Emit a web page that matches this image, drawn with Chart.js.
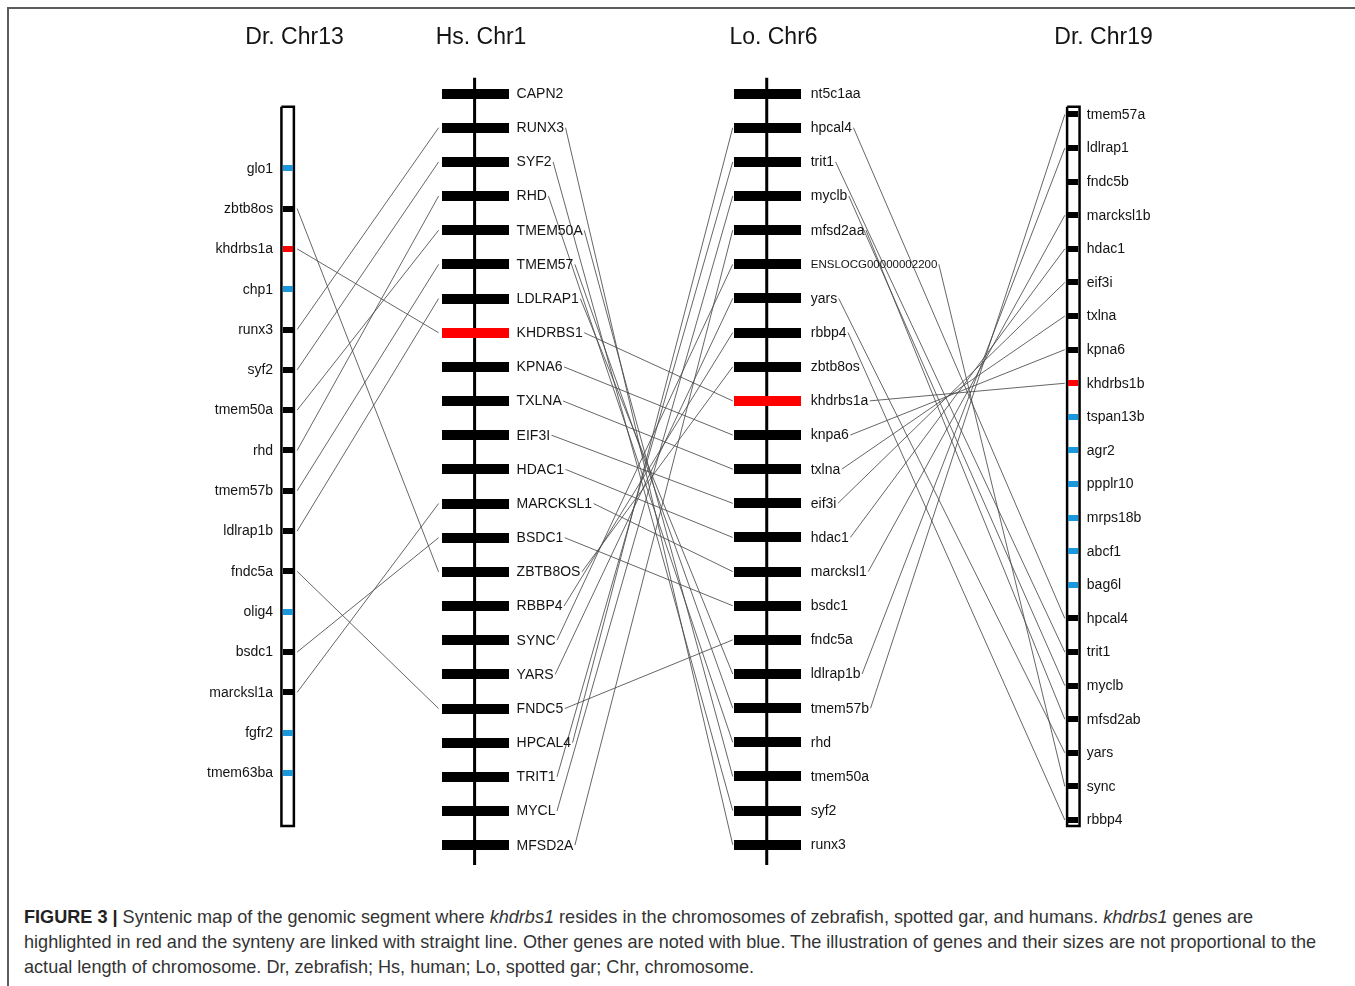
<!DOCTYPE html>
<html>
<head>
<meta charset="utf-8">
<title>Syntenic map of khdrbs1</title>
<script src="https://cdn.jsdelivr.net/npm/chart.js@4.4.1/dist/chart.umd.min.js"></script>
<style>
  html, body { margin: 0; padding: 0; background: #fff; width: 1355px; height: 986px; overflow: hidden; }
  #frame { position: absolute; left: 7px; top: 7px; width: 1400px; height: 1000px;
           border-top: 2px solid #5c5c5c; border-left: 2px solid #5c5c5c; }
  #wrap { position: absolute; left: 0; top: 0; width: 1355px; height: 880px; }
  #caption { position: absolute; left: 24px; top: 905px; font-family: "Liberation Sans", Arial, sans-serif;
             font-size: 18.1px; line-height: 25px; color: #333; white-space: nowrap; }
  #caption b { color: #222; }
</style>
</head>
<body>
<div id="frame"></div>
<div id="wrap"><canvas id="c" width="1355" height="880"></canvas></div>
<div id="caption">
  <b>FIGURE 3 |</b> Syntenic map of the genomic segment where <i>khdrbs1</i> resides in the chromosomes of zebrafish, spotted gar, and humans. <i>khdrbs1</i> genes are<br>
  highlighted in red and the synteny are linked with straight line. Other genes are noted with blue. The illustration of genes and their sizes are not proportional to the<br>
  actual length of chromosome. Dr, zebrafish; Hs, human; Lo, spotted gar; Chr, chromosome.
</div>
<script>
// ---- chromosome titles ----
const titles = ['Dr. Chr13', 'Hs. Chr1', 'Lo. Chr6', 'Dr. Chr19'];

// ---- genes on each chromosome, top to bottom ----
const dr13Genes = ['glo1', 'zbtb8os', 'khdrbs1a', 'chp1', 'runx3', 'syf2', 'tmem50a', 'rhd',
  'tmem57b', 'ldlrap1b', 'fndc5a', 'olig4', 'bsdc1', 'marcksl1a', 'fgfr2', 'tmem63ba'];
const dr13Kinds = ['other', 'syn', 'khdrbs1', 'other', 'syn', 'syn', 'syn', 'syn',
  'syn', 'syn', 'syn', 'other', 'syn', 'syn', 'other', 'other'];

const hsGenes = ['CAPN2', 'RUNX3', 'SYF2', 'RHD', 'TMEM50A', 'TMEM57', 'LDLRAP1', 'KHDRBS1',
  'KPNA6', 'TXLNA', 'EIF3I', 'HDAC1', 'MARCKSL1', 'BSDC1', 'ZBTB8OS', 'RBBP4', 'SYNC', 'YARS',
  'FNDC5', 'HPCAL4', 'TRIT1', 'MYCL', 'MFSD2A'];
const hsKinds = ['syn', 'syn', 'syn', 'syn', 'syn', 'syn', 'syn', 'khdrbs1',
  'syn', 'syn', 'syn', 'syn', 'syn', 'syn', 'syn', 'syn', 'syn', 'syn',
  'syn', 'syn', 'syn', 'syn', 'syn'];

const loGenes = ['nt5c1aa', 'hpcal4', 'trit1', 'myclb', 'mfsd2aa', 'ENSLOCG00000002200', 'yars',
  'rbbp4', 'zbtb8os', 'khdrbs1a', 'knpa6', 'txlna', 'eif3i', 'hdac1', 'marcksl1', 'bsdc1',
  'fndc5a', 'ldlrap1b', 'tmem57b', 'rhd', 'tmem50a', 'syf2', 'runx3'];
const loKinds = ['syn', 'syn', 'syn', 'syn', 'syn', 'syn', 'syn',
  'syn', 'syn', 'khdrbs1', 'syn', 'syn', 'syn', 'syn', 'syn', 'syn',
  'syn', 'syn', 'syn', 'syn', 'syn', 'syn', 'syn'];

const dr19Genes = ['tmem57a', 'ldlrap1', 'fndc5b', 'marcksl1b', 'hdac1', 'eif3i', 'txlna', 'kpna6',
  'khdrbs1b', 'tspan13b', 'agr2', 'ppplr10', 'mrps18b', 'abcf1', 'bag6l', 'hpcal4', 'trit1',
  'myclb', 'mfsd2ab', 'yars', 'sync', 'rbbp4'];
const dr19Kinds = ['syn', 'syn', 'syn', 'syn', 'syn', 'syn', 'syn', 'syn',
  'khdrbs1', 'other', 'other', 'other', 'other', 'other', 'other', 'syn', 'syn',
  'syn', 'syn', 'syn', 'syn', 'syn'];

// ---- syntenic links between neighbouring chromosomes ----
const linksDr13Hs = [['zbtb8os', 'ZBTB8OS'], ['khdrbs1a', 'KHDRBS1'], ['runx3', 'RUNX3'], ['syf2', 'SYF2'],
  ['tmem50a', 'TMEM50A'], ['rhd', 'RHD'], ['tmem57b', 'TMEM57'], ['ldlrap1b', 'LDLRAP1'],
  ['fndc5a', 'FNDC5'], ['bsdc1', 'BSDC1'], ['marcksl1a', 'MARCKSL1']];
const linksHsLo = [['RUNX3', 'runx3'], ['SYF2', 'syf2'], ['RHD', 'rhd'], ['TMEM50A', 'tmem50a'],
  ['TMEM57', 'tmem57b'], ['LDLRAP1', 'ldlrap1b'], ['KHDRBS1', 'khdrbs1a'], ['KPNA6', 'knpa6'],
  ['TXLNA', 'txlna'], ['EIF3I', 'eif3i'], ['HDAC1', 'hdac1'], ['MARCKSL1', 'marcksl1'],
  ['BSDC1', 'bsdc1'], ['ZBTB8OS', 'zbtb8os'], ['RBBP4', 'rbbp4'], ['SYNC', 'ENSLOCG00000002200'],
  ['YARS', 'yars'], ['FNDC5', 'fndc5a'], ['HPCAL4', 'hpcal4'], ['TRIT1', 'trit1'],
  ['MYCL', 'myclb'], ['MFSD2A', 'mfsd2aa']];
const linksLoDr19 = [['hpcal4', 'hpcal4'], ['trit1', 'trit1'], ['myclb', 'myclb'], ['mfsd2aa', 'mfsd2ab'],
  ['ENSLOCG00000002200', 'sync'], ['yars', 'yars'], ['rbbp4', 'rbbp4'], ['khdrbs1a', 'khdrbs1b'],
  ['knpa6', 'kpna6'], ['txlna', 'txlna'], ['eif3i', 'eif3i'], ['hdac1', 'hdac1'],
  ['marcksl1', 'marcksl1b'], ['ldlrap1b', 'ldlrap1'], ['tmem57b', 'tmem57a']];

// ---- drawing layout (pixels) ----
const W = 1355, H = 880;
const track = {
  dr13: { x: 286.5, first: 167, step: 40.5 },
  hs:   { x: 474.5, first: 92,  step: 34.32 },
  lo:   { x: 767.5, first: 92,  step: 34.3 },
  dr19: { x: 1074.5, first: 113, step: 33.75 }
};
const titleX = [294.5, 481, 773.5, 1103.5];
const titleY = 38;
const boxTop = 104, boxBottom = 829, boxHalf = 7.5, boxBorder = 2.5;
const backboneTop = 76, backboneBottom = 867;
const barW = 67, barH = 10, markW = 10, markH = 6;
const colors = { syn: '#000000', khdrbs1: '#ff0000', other: '#1b97dc' };
const linkColor = '#4a4a4a';
const geneFont = '14px "Liberation Sans", Arial, sans-serif';
const smallGeneFont = '11.5px "Liberation Sans", Arial, sans-serif';
const titleFont = '23px "Liberation Sans", Arial, sans-serif';

// block images used as point styles for gene marks
function block(w, h, color) {
  const cv = document.createElement('canvas');
  cv.width = w; cv.height = h;
  const g = cv.getContext('2d');
  g.fillStyle = color; g.fillRect(0, 0, w, h);
  return cv;
}
const barStyles = {}, markStyles = {};
for (const k in colors) {
  barStyles[k] = block(barW, barH, colors[k]);
  markStyles[k] = block(markW, markH, colors[k]);
}

// each chromosome gets its own y axis: gene index -> pixel row
function geneAxis(t) {
  return { type: 'linear', display: false, reverse: true,
           min: -t.first / t.step, max: (H - t.first) / t.step };
}
const toVal = (t, px) => (px - t.first) / t.step;

function geneDataset(genes, kinds, t, axis, styles) {
  return {
    type: 'scatter', yAxisID: axis,
    data: genes.map((g, i) => ({ x: t.x, y: i })),
    pointRadius: 1, pointHoverRadius: 1,
    pointStyle: c => styles[kinds[c.dataIndex]]
  };
}
function boxDataset(t, axis) {
  const l = t.x - boxHalf + boxBorder / 2, r = t.x + boxHalf - boxBorder / 2;
  const top = toVal(t, boxTop + boxBorder / 2), bot = toVal(t, boxBottom - boxBorder / 2);
  return {
    type: 'scatter', yAxisID: axis, showLine: true, pointRadius: 0,
    borderColor: '#000', borderWidth: boxBorder, borderJoinStyle: 'miter',
    data: [{ x: l, y: top }, { x: r, y: top }, { x: r, y: bot }, { x: l, y: bot }, { x: l, y: top }]
  };
}
function backboneDataset(t, axis) {
  return {
    type: 'scatter', yAxisID: axis, showLine: true, pointRadius: 0,
    borderColor: '#000', borderWidth: 3,
    data: [{ x: t.x - 0.5, y: toVal(t, backboneTop) }, { x: t.x - 0.5, y: toVal(t, backboneBottom) }]
  };
}

const fontFor = name => name.length > 12 ? smallGeneFont : geneFont;

// links and text are placed through the chart's own scales
const syntenyPlugin = {
  id: 'synteny',
  beforeDatasetsDraw(chart) {
    const { ctx, scales } = chart;
    const sx = scales.x;
    const py = (axis, genes, name) => scales[axis].getPixelForValue(genes.indexOf(name));
    const labelEnd = (t, off, name) => {
      ctx.font = fontFor(name);
      return sx.getPixelForValue(t.x) + off + ctx.measureText(name).width + 1.5;
    };
    ctx.save();
    ctx.strokeStyle = linkColor;
    ctx.lineWidth = 0.85;
    const seg = (x1, y1, x2, y2) => { ctx.beginPath(); ctx.moveTo(x1, y1); ctx.lineTo(x2, y2); ctx.stroke(); };
    for (const [a, b] of linksDr13Hs) {
      seg(sx.getPixelForValue(track.dr13.x) + boxHalf + 2, py('yDr13', dr13Genes, a),
          sx.getPixelForValue(track.hs.x) - barW / 2 - 3, py('yHs', hsGenes, b));
    }
    for (const [a, b] of linksHsLo) {
      seg(labelEnd(track.hs, barW / 2 + 8, a), py('yHs', hsGenes, a),
          sx.getPixelForValue(track.lo.x) - barW / 2 - 1, py('yLo', loGenes, b));
    }
    for (const [a, b] of linksLoDr19) {
      seg(labelEnd(track.lo, barW / 2 + 10, a), py('yLo', loGenes, a),
          sx.getPixelForValue(track.dr19.x) - boxHalf - 1, py('yDr19', dr19Genes, b));
    }
    ctx.restore();
  },
  afterDatasetsDraw(chart) {
    const { ctx, scales } = chart;
    const sx = scales.x;
    ctx.save();
    ctx.fillStyle = '#141414';
    ctx.textBaseline = 'middle';
    ctx.font = titleFont;
    ctx.textAlign = 'center';
    titles.forEach((t, i) => ctx.fillText(t, titleX[i], titleY));
    const label = (genes, t, axis, off, align) => {
      ctx.textAlign = align;
      genes.forEach((g, i) => {
        ctx.font = fontFor(g);
        ctx.fillText(g, sx.getPixelForValue(t.x) + off, scales[axis].getPixelForValue(i) + 0.5);
      });
    };
    label(dr13Genes, track.dr13, 'yDr13', -boxHalf - 7, 'right');
    label(hsGenes, track.hs, 'yHs', barW / 2 + 8, 'left');
    label(loGenes, track.lo, 'yLo', barW / 2 + 10, 'left');
    label(dr19Genes, track.dr19, 'yDr19', boxHalf + 6, 'left');
    ctx.restore();
  }
};

new Chart(document.getElementById('c'), {
  type: 'scatter',
  data: {
    datasets: [
      geneDataset(dr13Genes, dr13Kinds, track.dr13, 'yDr13', markStyles),
      geneDataset(hsGenes, hsKinds, track.hs, 'yHs', barStyles),
      geneDataset(loGenes, loKinds, track.lo, 'yLo', barStyles),
      geneDataset(dr19Genes, dr19Kinds, track.dr19, 'yDr19', markStyles),
      boxDataset(track.dr13, 'yDr13'),
      boxDataset(track.dr19, 'yDr19'),
      backboneDataset(track.hs, 'yHs'),
      backboneDataset(track.lo, 'yLo')
    ]
  },
  options: {
    responsive: false,
    animation: false,
    events: [],
    devicePixelRatio: 1,
    layout: { padding: 0 },
    plugins: { legend: { display: false }, tooltip: { enabled: false }, title: { display: false } },
    scales: {
      x: { type: 'linear', display: false, min: 0, max: W },
      yDr13: geneAxis(track.dr13),
      yHs: geneAxis(track.hs),
      yLo: geneAxis(track.lo),
      yDr19: geneAxis(track.dr19)
    }
  },
  plugins: [syntenyPlugin]
});
</script>
</body>
</html>
